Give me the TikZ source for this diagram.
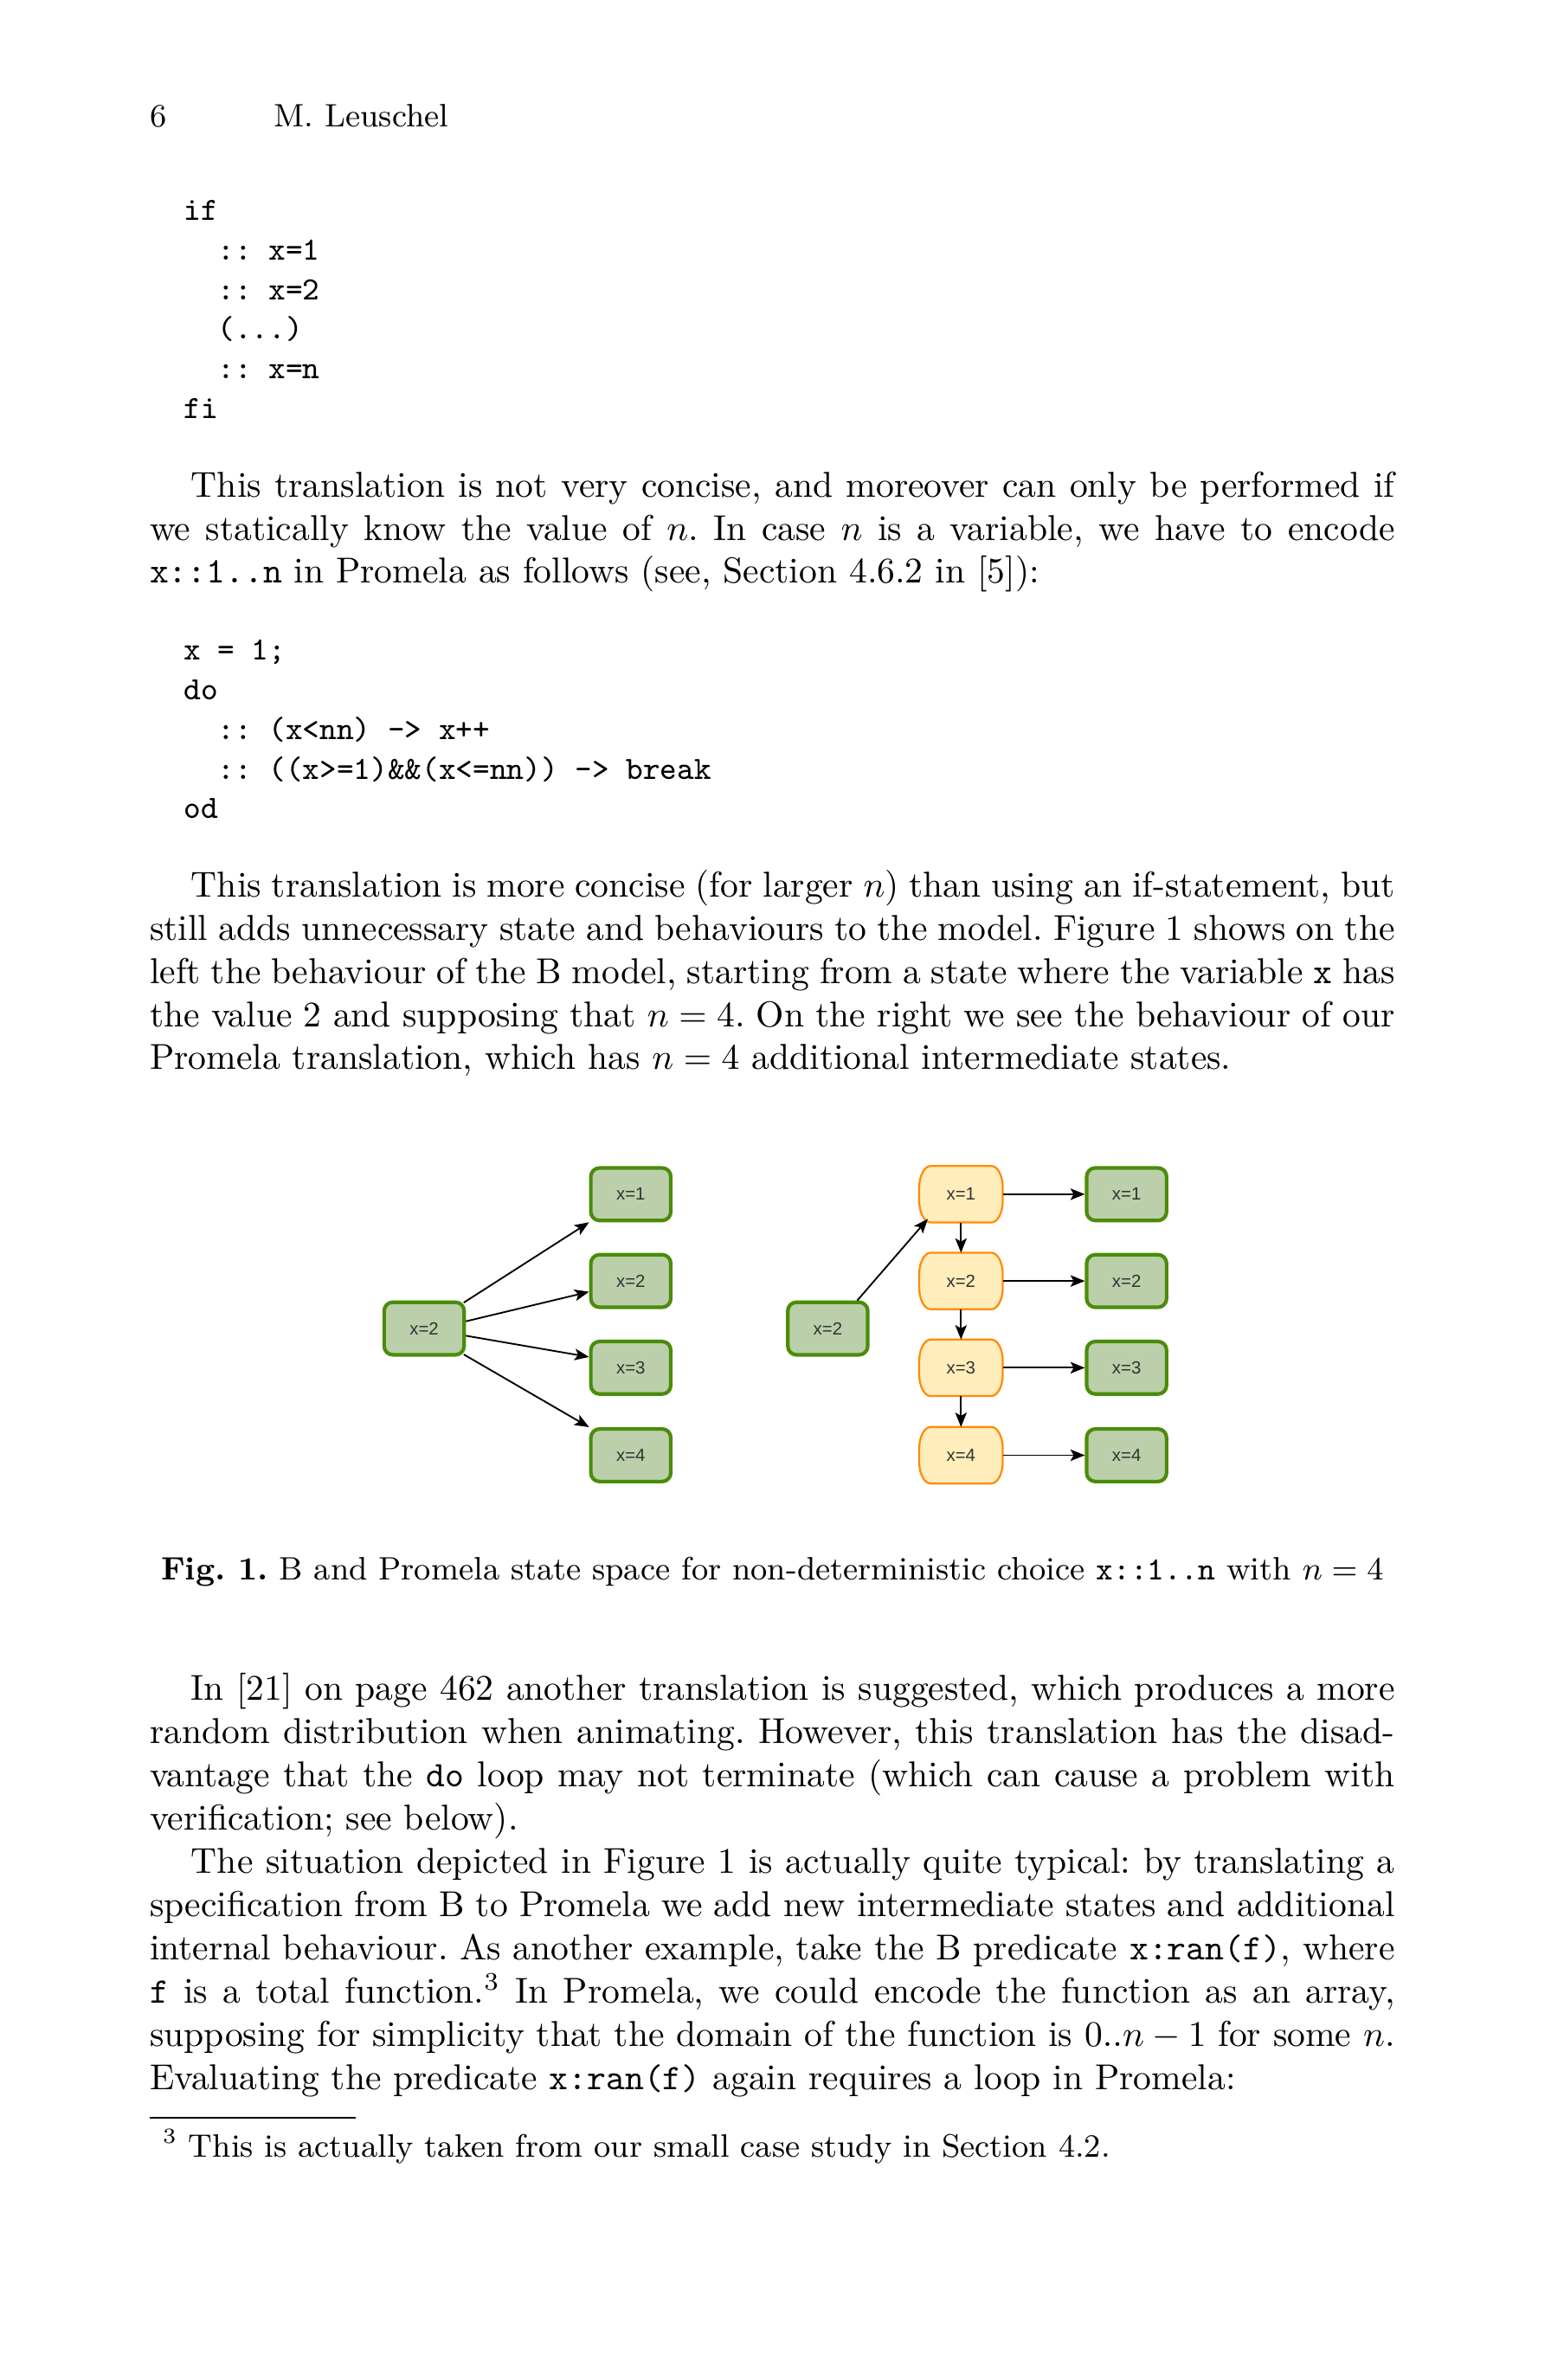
\documentclass[tikz,border=0pt]{standalone}
\usepackage{fontspec}
\newfontfamily\helv{Liberation Sans}
\usetikzlibrary{arrows.meta,backgrounds}
\definecolor{gfill}{HTML}{BBCFAA}
\definecolor{gdraw}{HTML}{4A8C0A}
\definecolor{ofill}{HTML}{FFEDBB}
\definecolor{odraw}{HTML}{FF8C0A}
\definecolor{ntext}{HTML}{333333}
\newcommand\jline[1]{\makebox[345.83pt][s]{#1}}
\newcommand\pind{\hspace*{11.5pt}}
\tikzset{
  txt/.style={anchor=base west, inner sep=0pt, outer sep=0pt, font=\fontsize{10}{12}\selectfont\frenchspacing},
  code/.style={anchor=base west, inner sep=0pt, outer sep=0pt, font=\fontsize{9}{11}\selectfont\ttfamily},
  gbox/.style={rectangle, rounded corners=2.4pt, draw=gdraw, line width=1pt, fill=gfill,
    minimum width=22.2pt, minimum height=14.6pt, inner sep=0pt,
    font=\helv\fontsize{4.9}{5.5}\selectfont, text=ntext},
  obox/.style={rectangle, minimum width=22.8pt, minimum height=15.3pt, inner sep=0pt,
    font=\helv\fontsize{4.9}{5.5}\selectfont, text=ntext},
  oshape/.style={draw=odraw, line width=0.55pt, fill=ofill},
  arr/.style={-{Stealth[length=4pt,width=3.2pt,inset=0.9pt]}, line width=0.45pt, black},
}
\begin{document}
\begin{tikzpicture}[x=1pt,y=1pt]
\useasboundingbox (0,0) rectangle (430.77,-661.06);
\begin{scope}[on background layer]
\fill[white] (0,0) rectangle (430.77,-661.06);
\end{scope}

% header
\node[txt, font=\fontsize{9}{11}\selectfont] (h1) at (41.6,-35.3) {6};
\node[txt, font=\fontsize{9}{11}\selectfont] (h2) at (76.1,-35.3) {M. Leuschel};

% code 1
\node[code] (c1a) at (51.05,-61.2) {if};
\node[code] (c1b) at (60.5,-72.2) {::~x=1};
\node[code] (c1c) at (60.5,-83.2) {::~x=2};
\node[code] (c1d) at (60.5,-94.2) {(...)};
\node[code] (c1e) at (60.5,-105.2) {::~x=n};
\node[code] (c1f) at (51.05,-116.2) {fi};

% paragraph 1
\node[txt] (p1a) at (41.6,-138.0) {\jline{\pind This translation is not very concise, and moreover can only be performed if}};
\node[txt] (p1b) at (41.6,-150.0) {\jline{we statically know the value of $n$. In case $n$ is a variable, we have to encode}};
\node[txt] (p1c) at (41.6,-162.0) {\texttt{x::1..n} in Promela as follows (see, Section 4.6.2 in [5]):};

% code 2
\node[code] (c2a) at (51.05,-183.4) {x~=~1;};
\node[code] (c2b) at (51.05,-194.4) {do};
\node[code] (c2c) at (60.5,-205.4) {::~(x<nn)~->~x++};
\node[code] (c2d) at (60.5,-216.4) {::~((x>=1)\&\&(x<=nn))~->~break};
\node[code] (c2e) at (51.05,-227.4) {od};

% paragraph 2
\node[txt] (p2a) at (41.6,-249.1) {\jline{\pind This translation is more concise (for larger $n$) than using an if-statement, but}};
\node[txt] (p2b) at (41.6,-261.1) {\jline{still adds unnecessary state and behaviours to the model. Figure 1 shows on the}};
\node[txt] (p2c) at (41.6,-273.1) {\jline{left the behaviour of the B model, starting from a state where the variable \texttt{x} has}};
\node[txt] (p2d) at (41.6,-285.1) {\jline{the value 2 and supposing that $n=4$. On the right we see the behaviour of our}};
\node[txt] (p2e) at (41.6,-297.1) {Promela translation, which has $n=4$ additional intermediate states.};

% figure: left
\node[gbox] (ls) at (117.8,-369.0) {x=2};
\node[gbox] (lt1) at (175.2,-331.7) {x=1};
\node[gbox] (lt2) at (175.2,-355.8) {x=2};
\node[gbox] (lt3) at (175.2,-379.9) {x=3};
\node[gbox] (lt4) at (175.2,-404.2) {x=4};
\draw[arr] ([shift={(-0.6pt,-0.6pt)}]ls.north east) -- (lt1.south west);
\draw[arr] ([yshift=2pt]ls.east) -- ([yshift=-3pt]lt2.west);
\draw[arr] ([yshift=-2pt]ls.east) -- ([yshift=3pt]lt3.west);
\draw[arr] ([shift={(-0.6pt,0.6pt)}]ls.south east) -- (lt4.north west);

% figure: right
\node[gbox] (rs) at (229.9,-369.0) {x=2};
\node[obox] (o1) at (266.9,-331.7) {x=1};
\node[obox] (o2) at (266.9,-355.8) {x=2};
\node[obox] (o3) at (266.9,-379.9) {x=3};
\node[obox] (o4) at (266.9,-404.2) {x=4};
\begin{scope}[on background layer]
\foreach \n in {o1,o2,o3,o4}{
  \path[oshape] ([xshift=3.2pt]\n.north west) -- ([xshift=-3.2pt]\n.north east)
    arc[start angle=90, end angle=0, x radius=3.2pt, y radius=6pt]
    -- ([yshift=6pt]\n.south east)
    arc[start angle=0, end angle=-90, x radius=3.2pt, y radius=6pt]
    -- ([xshift=3.2pt]\n.south west)
    arc[start angle=270, end angle=180, x radius=3.2pt, y radius=6pt]
    -- ([yshift=-6pt]\n.north west)
    arc[start angle=180, end angle=90, x radius=3.2pt, y radius=6pt]
    -- cycle;
}
\end{scope}
\node[gbox] (rg1) at (312.9,-331.7) {x=1};
\node[gbox] (rg2) at (312.9,-355.8) {x=2};
\node[gbox] (rg3) at (312.9,-379.9) {x=3};
\node[gbox] (rg4) at (312.9,-404.2) {x=4};
\draw[arr] ([xshift=-3.4pt]rs.north east) -- ([shift={(2.4pt,1.0pt)}]o1.south west);
\draw[arr] (o1.south) -- (o2.north);
\draw[arr] (o2.south) -- (o3.north);
\draw[arr] (o3.south) -- (o4.north);
\draw[arr] (o1.east) -- (rg1.west);
\draw[arr] (o2.east) -- (rg2.west);
\draw[arr] (o3.east) -- (rg3.west);
\draw[arr] (o4.east) -- (rg4.west);

% caption
\node[anchor=base, inner sep=0pt, font=\fontsize{9}{11}\selectfont\frenchspacing] (cap) at (214.5,-438.8)
  {\textbf{Fig.\ 1.} B and Promela state space for non-deterministic choice \texttt{x::1..n} with $n=4$};

% paragraphs 3 and 4
\node[txt] (p3a) at (41.6,-472.3) {\jline{\pind In [21] on page 462 another translation is suggested, which produces a more}};
\node[txt] (p3b) at (41.6,-484.3) {\jline{random distribution when animating. However, this translation has the disad-}};
\node[txt] (p3c) at (41.6,-496.3) {\jline{vantage that the \texttt{do} loop may not terminate (which can cause a problem with}};
\node[txt] (p3d) at (41.6,-508.3) {verification; see below).};
\node[txt] (p4a) at (41.6,-520.3) {\jline{\pind The situation depicted in Figure 1 is actually quite typical: by translating a}};
\node[txt] (p4b) at (41.6,-532.3) {\jline{specification from B to Promela we add new intermediate states and additional}};
\node[txt] (p4c) at (41.6,-544.3) {\jline{internal behaviour. As another example, take the B predicate \texttt{x:ran(f)}, where}};
\node[txt] (p4d) at (41.6,-556.3) {\jline{\texttt{f} is a total function.\textsuperscript{3} In Promela, we could encode the function as an array,}};
\node[txt] (p4e) at (41.6,-568.3) {\jline{supposing for simplicity that the domain of the function is $0..n-1$ for some $n$.}};
\node[txt] (p4f) at (41.6,-580.3) {Evaluating the predicate \texttt{x:ran(f)} again requires a loop in Promela:};

% footnote
\draw[line width=0.5pt] (41.6,-588.2) -- (98.8,-588.2);
\node[anchor=base west, inner sep=0pt, font=\fontsize{9}{11}\selectfont\frenchspacing] (fn) at (45.0,-599.1)
  {\textsuperscript{3}\hspace{3.0pt}This is actually taken from our small case study in Section 4.2.};
\end{tikzpicture}
\end{document}
